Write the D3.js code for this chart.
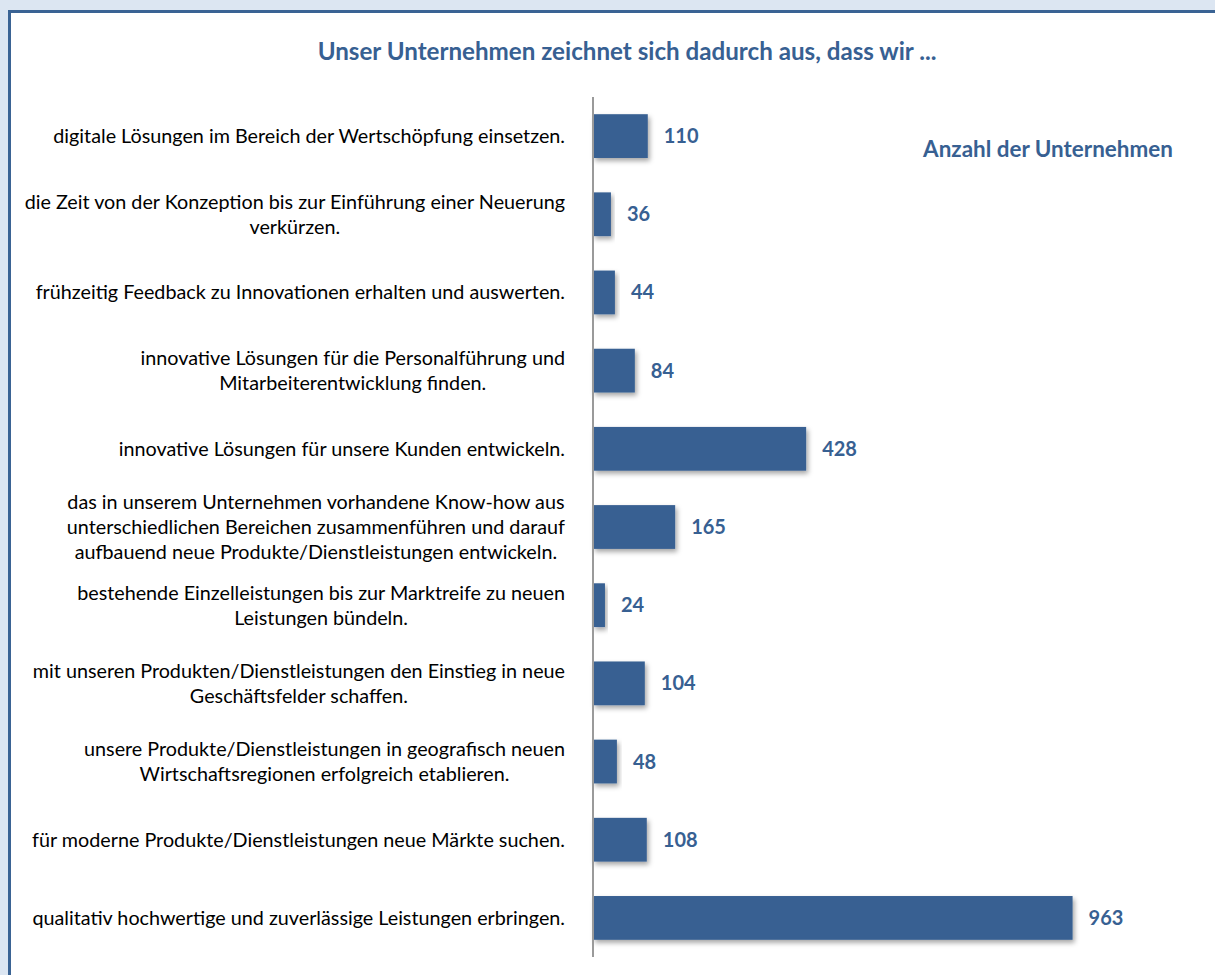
<!DOCTYPE html>
<html>
<head>
<meta charset="utf-8">
<script src="https://cdn.jsdelivr.net/npm/d3@7"></script>
<style>
  body { margin: 0; background: #dce6f2; }
  svg { display: block; }
</style>
</head>
<body>
<div id="chart"></div>
<script>
const W = 1215, H = 975;

const title = "Unser Unternehmen zeichnet sich dadurch aus, dass wir ...";
const legendLabel = "Anzahl der Unternehmen";

// each category split into its printed lines
const categories = [
  ["digitale Lösungen im Bereich der Wertschöpfung einsetzen."],
  ["die Zeit von der Konzeption bis zur Einführung einer Neuerung", "verkürzen."],
  ["frühzeitig Feedback zu Innovationen erhalten und auswerten."],
  ["innovative Lösungen für die Personalführung und", "Mitarbeiterentwicklung finden."],
  ["innovative Lösungen für unsere Kunden entwickeln."],
  ["das in unserem Unternehmen vorhandene Know-how aus", "unterschiedlichen Bereichen zusammenführen und darauf", "aufbauend neue Produkte/Dienstleistungen entwickeln."],
  ["bestehende Einzelleistungen bis zur Marktreife zu neuen", "Leistungen bündeln."],
  ["mit unseren Produkten/Dienstleistungen den Einstieg in neue", "Geschäftsfelder schaffen."],
  ["unsere Produkte/Dienstleistungen in geografisch neuen", "Wirtschaftsregionen erfolgreich etablieren."],
  ["für moderne Produkte/Dienstleistungen neue Märkte suchen."],
  ["qualitativ hochwertige und zuverlässige Leistungen erbringen."]
];
const values = [110, 36, 44, 84, 428, 165, 24, 104, 48, 108, 963];

const data = categories.map((c, i) => ({ id: i, lines: c, value: values[i] }));

const blue = "#376092";
const font = "Lato, 'Open Sans', sans-serif";

const svg = d3.select("#chart").append("svg")
  .attr("width", W)
  .attr("height", H);

// pick a font size so a string comes out at the width seen in the original
function fitSize(str, weight, target) {
  const t = svg.append("text")
    .attr("font-family", font)
    .attr("font-weight", weight)
    .attr("font-size", 20)
    .text(str);
  const w = t.node().getComputedTextLength();
  t.remove();
  return 20 * target / w;
}
const labelSize = fitSize(categories[10][0], "normal", 533);
const titleSize = fitSize(title, "bold", 619);
const legendSize = fitSize(legendLabel, "bold", 250);

const defs = svg.append("defs");
const shadow = defs.append("filter")
  .attr("id", "shadow")
  .attr("x", "-10%").attr("y", "-20%")
  .attr("width", "130%").attr("height", "160%");
shadow.append("feDropShadow")
  .attr("dx", 2).attr("dy", 3)
  .attr("stdDeviation", 2.5)
  .attr("flood-color", "#000")
  .attr("flood-opacity", 0.35);

// the white chart area with its frame
svg.append("rect")
  .attr("x", 9.5).attr("y", 11.5)
  .attr("width", 1300).attr("height", 1100)
  .attr("fill", "#fff")
  .attr("stroke", "#3a6394")
  .attr("stroke-width", 3);

const x = d3.scaleLinear()
  .domain([0, 1000])
  .range([593, 1091]);

const y = d3.scaleBand()
  .domain(data.map(d => d.id))
  .range([97, 957])
  .paddingInner(0.44)
  .paddingOuter(0.22);

svg.append("text")
  .attr("x", 627).attr("y", 52)
  .attr("dy", "0.35em")
  .attr("text-anchor", "middle")
  .attr("font-family", font)
  .attr("font-weight", "bold")
  .attr("font-size", titleSize)
  .attr("fill", blue)
  .text(title);

svg.append("text")
  .attr("x", 1048).attr("y", 149)
  .attr("dy", "0.35em")
  .attr("text-anchor", "middle")
  .attr("font-family", font)
  .attr("font-weight", "bold")
  .attr("font-size", legendSize)
  .attr("fill", blue)
  .text(legendLabel);

svg.append("g")
  .selectAll("rect")
  .data(data)
  .join("rect")
    .attr("x", x(0))
    .attr("y", d => y(d.id))
    .attr("width", d => x(d.value) - x(0))
    .attr("height", y.bandwidth())
    .attr("fill", blue)
    .attr("filter", "url(#shadow)");

// vertical category axis line
svg.append("line")
  .attr("x1", x(0)).attr("x2", x(0))
  .attr("y1", y.range()[0]).attr("y2", y.range()[1])
  .attr("stroke", "#9a9a9a")
  .attr("stroke-width", 2);

svg.append("g")
  .selectAll("text")
  .data(data)
  .join("text")
    .attr("x", d => x(d.value) + 16)
    .attr("y", d => y(d.id) + y.bandwidth() / 2)
    .attr("dy", "0.35em")
    .attr("font-family", font)
    .attr("font-weight", "bold")
    .attr("font-size", 20)
    .attr("fill", blue)
    .text(d => d.value);

// category labels: block right-aligned, lines centred inside the block
const labelRight = 565;
const lineH = 25;
const labels = svg.append("g")
  .selectAll("g")
  .data(data)
  .join("g");

labels.each(function(d) {
  const g = d3.select(this);
  const cy = y(d.id) + y.bandwidth() / 2;
  const n = d.lines.length;
  const texts = g.selectAll("text")
    .data(d.lines)
    .join("text")
      .attr("y", (l, i) => cy + (i - (n - 1) / 2) * lineH)
      .attr("dy", "0.35em")
      .attr("text-anchor", "middle")
      .attr("font-family", font)
      .attr("font-size", labelSize)
      .attr("fill", "#000")
      .text(l => l);
  let maxW = 0;
  texts.each(function() { maxW = Math.max(maxW, this.getComputedTextLength()); });
  texts.attr("x", labelRight - maxW / 2);
});
</script>
</body>
</html>
